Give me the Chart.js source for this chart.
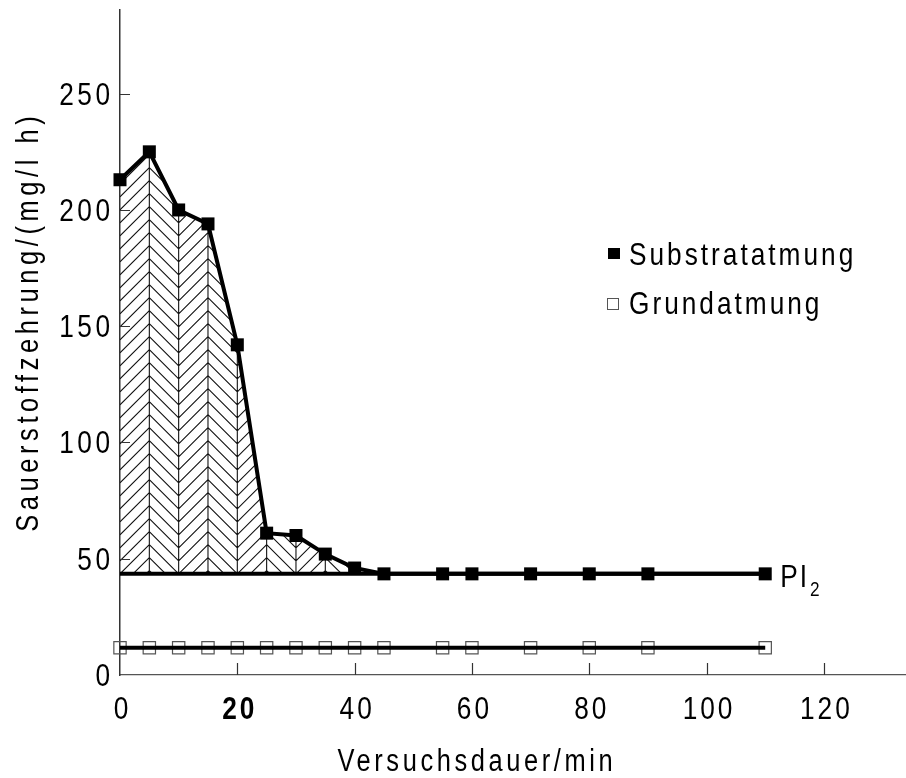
<!DOCTYPE html>
<html lang="de">
<head>
<meta charset="utf-8">
<title>Sauerstoffzehrung</title>
<script src="https://cdn.jsdelivr.net/npm/chart.js@4.4.1/dist/chart.umd.min.js"></script>
<style>
  html, body { margin: 0; padding: 0; background: #fff; }
  #box { width: 906px; height: 778px; position: relative; }
</style>
</head>
<body>
<div id="box"><canvas id="atmung"></canvas></div>
<script>
// Messwerte (Versuchsdauer in min, Sauerstoffzehrung in mg/l h)
const zeitSubstrat = [0, 5, 10, 15, 20, 25, 30, 35, 40, 45, 55, 60, 70, 80, 90, 110];
const substratatmung = [213, 225, 200, 194, 142, 61, 60, 52, 46, 43.5, 43.5, 43.5, 43.5, 43.5, 43.5, 43.5];
const zeitGrund = [0, 5, 10, 15, 20, 25, 30, 35, 40, 45, 55, 60, 70, 80, 90, 110];
const grundatmung = [11.7, 11.7, 11.7, 11.7, 11.7, 11.7, 11.7, 11.7, 11.7, 11.7, 11.7, 11.7, 11.7, 11.7, 11.7, 11.7];
// Plateau PI2 und seine Ausdehnung
const plateauZeit = [0, 110];
const plateauWert = [43.5, 43.5];
const xTicks = [0, 20, 40, 60, 80, 100, 120];
const yTicks = [0, 50, 100, 150, 200, 250];
const xMax = 134;
const yMax = 286;

const schrift = "'Liberation Sans', Arial, sans-serif";

function punkte(xs, ys) {
    return xs.map((x, i) => ({ x: x, y: ys[i] }));
}

// schmale, gesperrte Schrift: horizontal gestaucht mit Zeichenabstand
function schreibe(ctx, text, x, y, o) {
    const stauchung = o.stauchung || 0.82;
    const sperr = o.sperr || 0;
    ctx.save();
    ctx.translate(x, y);
    if (o.drehung) ctx.rotate(o.drehung);
    ctx.scale(stauchung, 1);
    ctx.font = (o.fett ? 'bold ' : '') + o.groesse + 'px ' + schrift;
    ctx.letterSpacing = (sperr / stauchung) + 'px';
    ctx.textAlign = 'left';
    ctx.textBaseline = o.basis || 'middle';
    ctx.fillStyle = '#000';
    const w = ctx.measureText(text).width - sperr / stauchung;
    let dx = 0;
    if (o.ausrichtung === 'center') dx = -w / 2;
    if (o.ausrichtung === 'right') dx = -w;
    ctx.fillText(text, dx, 0);
    ctx.restore();
    return w * stauchung;
}

// Schraffur (Fischgrätmuster) zwischen Kurve und Plateau
const schraffur = {
    id: 'schraffur',
    beforeDatasetsDraw(chart) {
        const meta = chart.getDatasetMeta(0);
        const yScale = chart.scales.y;
        const yBase = yScale.getPixelForValue(plateauWert[0]);
        let ende = 0;
        for (let i = 0; i < substratatmung.length; i++) {
            ende = i;
            if (i > 0 && substratatmung[i] <= plateauWert[0]) break;
        }
        const pts = meta.data.slice(0, ende + 1);
        const ctx = chart.ctx;
        ctx.save();
        ctx.beginPath();
        ctx.moveTo(pts[0].x, yBase);
        pts.forEach(p => ctx.lineTo(p.x, p.y));
        ctx.lineTo(pts[pts.length - 1].x, yBase);
        ctx.closePath();
        ctx.clip();

        ctx.strokeStyle = '#111';
        ctx.lineWidth = 1.1;
        const abstand = 13;
        const top = chart.chartArea.top;
        const n = Math.ceil((yBase - top) / abstand) + 6;
        let phase = 0;
        ctx.beginPath();
        for (let i = 0; i < pts.length - 1; i++) {
            const xa = pts[i].x, xb = pts[i + 1].x;
            const w = xb - xa;
            const naechste = i % 2 === 0 ? phase - w : phase + w;
            for (let k = -n; k <= 6; k++) {
                ctx.moveTo(xa, yBase + phase + k * abstand);
                ctx.lineTo(xb, yBase + naechste + k * abstand);
            }
            phase = naechste;
            // senkrechte Trennlinie
            ctx.moveTo(xb, yBase);
            ctx.lineTo(xb, top);
        }
        ctx.stroke();
        ctx.restore();
    }
};

// Teilstriche nach innen, Skalenbeschriftung, Legende, Achsentitel und PI2
const beschriftung = {
    id: 'beschriftung',
    afterDraw(chart) {
        const ctx = chart.ctx;
        const xs = chart.scales.x, ys = chart.scales.y;
        const area = chart.chartArea;
        ctx.save();
        ctx.strokeStyle = '#333';
        ctx.lineWidth = 1.2;
        ctx.beginPath();
        yTicks.slice(1).forEach(v => {
            const y = Math.round(ys.getPixelForValue(v)) + 0.5;
            ctx.moveTo(area.left, y);
            ctx.lineTo(area.left + 10, y);
        });
        xTicks.slice(1).forEach(v => {
            const x = Math.round(xs.getPixelForValue(v)) + 0.5;
            ctx.moveTo(x, area.bottom);
            ctx.lineTo(x, area.bottom - 12);
        });
        ctx.stroke();
        ctx.restore();

        // Skalenbeschriftung
        yTicks.forEach(v => {
            schreibe(ctx, String(v), area.left - 10, ys.getPixelForValue(v) + 2,
                { groesse: 32, sperr: 3.5, ausrichtung: 'right' });
        });
        xTicks.forEach(v => {
            schreibe(ctx, String(v), xs.getPixelForValue(v) + 1, area.bottom + 35,
                { groesse: 32, sperr: 3, ausrichtung: 'center', fett: v === 20 });
        });

        // Legende
        ctx.save();
        ctx.fillStyle = '#000';
        ctx.fillRect(608, 248, 12, 11);
        ctx.strokeStyle = '#555';
        ctx.lineWidth = 1;
        ctx.strokeRect(607.5, 298.5, 11, 11);
        ctx.restore();
        schreibe(ctx, 'Substratatmung', 629, 256, { groesse: 32, sperr: 3.0 });
        schreibe(ctx, 'Grundatmung', 629, 305, { groesse: 32, sperr: 3.0 });

        // PI2 am Ende des Plateaus
        const px = xs.getPixelForValue(plateauZeit[1]) + 15;
        const py = ys.getPixelForValue(plateauWert[1]);
        const wPI = schreibe(ctx, 'PI', px, py + 13, { groesse: 32, sperr: 2, basis: 'alphabetic' });
        schreibe(ctx, '2', px + wPI + 3, py + 22, { groesse: 21, basis: 'alphabetic' });

        // Achsentitel
        schreibe(ctx, 'Versuchsdauer/min', 475, 762, { groesse: 31, sperr: 3.6, ausrichtung: 'center' });
        schreibe(ctx, 'Sauerstoffzehrung/(mg/l h)', 29, 324,
            { groesse: 31, sperr: 4.6, ausrichtung: 'center', drehung: -Math.PI / 2 });
    }
};

new Chart(document.getElementById('atmung'), {
    type: 'scatter',
    data: {
        datasets: [
            {
                label: 'Substratatmung',
                data: punkte(zeitSubstrat, substratatmung),
                showLine: true,
                borderColor: '#000',
                borderWidth: 4,
                pointStyle: 'rect',
                pointRadius: 9.2,
                pointBackgroundColor: '#000',
                pointBorderColor: '#000',
                pointBorderWidth: 0,
                clip: false,
                order: 1
            },
            {
                label: 'Grundatmung',
                data: punkte(zeitGrund, grundatmung),
                showLine: true,
                borderColor: '#000',
                borderWidth: 4,
                pointStyle: false,
                clip: false,
                order: 3
            },
            {
                label: 'Grundatmung Punkte',
                data: punkte(zeitGrund, grundatmung),
                showLine: false,
                pointStyle: 'rect',
                pointRadius: 8.7,
                pointBackgroundColor: 'rgba(0,0,0,0)',
                pointBorderColor: '#555',
                pointBorderWidth: 1.2,
                clip: false,
                order: 4
            },
            {
                label: 'PI2',
                data: punkte(plateauZeit, plateauWert),
                showLine: true,
                borderColor: '#000',
                borderWidth: 4,
                pointStyle: false,
                clip: false,
                order: 2
            }
        ]
    },
    options: {
        responsive: true,
        maintainAspectRatio: false,
        animation: false,
        layout: { autoPadding: false, padding: { top: 10, right: 0, left: 0, bottom: 0 } },
        plugins: {
            legend: { display: false },
            tooltip: { enabled: false }
        },
        scales: {
            x: {
                type: 'linear',
                min: 0,
                max: xMax,
                afterBuildTicks: s => { s.ticks = xTicks.map(v => ({ value: v })); },
                afterFit: s => { s.height = 103; },
                grid: { drawOnChartArea: false, drawTicks: false },
                border: { display: true, color: '#555', width: 1.2 },
                ticks: { display: false }
            },
            y: {
                type: 'linear',
                min: 0,
                max: yMax,
                afterBuildTicks: s => { s.ticks = yTicks.map(v => ({ value: v })); },
                afterFit: s => { s.width = 120; },
                grid: { drawOnChartArea: false, drawTicks: false },
                border: { display: true, color: '#333', width: 1.5 },
                ticks: { display: false }
            }
        }
    },
    plugins: [schraffur, beschriftung]
});
</script>
</body>
</html>
